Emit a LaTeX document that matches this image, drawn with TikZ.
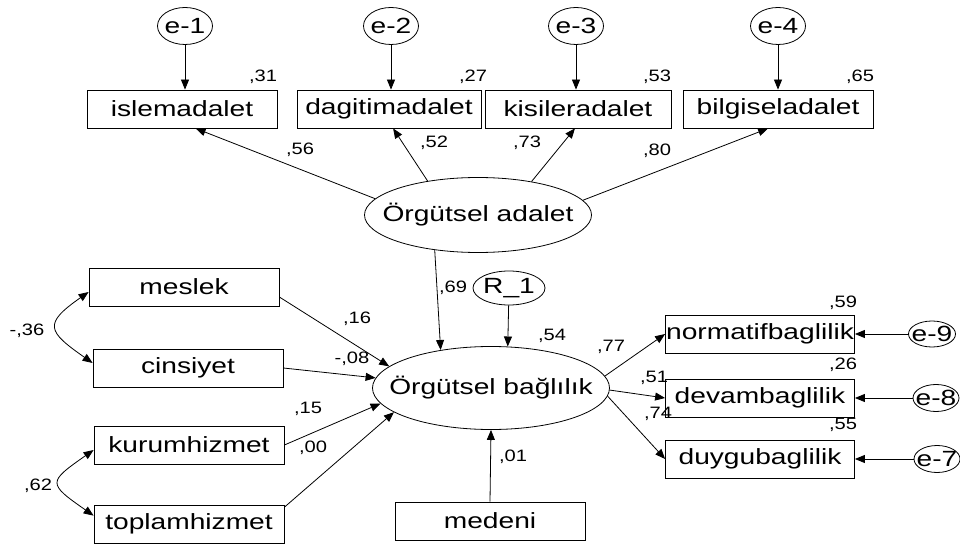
\documentclass[tikz,border=0pt]{standalone}
\usepackage{fontspec}
\setmainfont{Liberation Sans}
\newfontfamily\amosfont[FakeStretch=1.28]{Liberation Sans}
\newfontfamily\amosnum[FakeStretch=1.22]{Liberation Sans}
\usetikzlibrary{arrows.meta, shapes.geometric}

\begin{document}
\begin{tikzpicture}[
    x=1pt, y=1pt,
    obs/.style={draw, rectangle, inner sep=0.5pt, minimum height=38pt, minimum width=#1, font=\fontsize{22}{25}\amosfont},
    obs/.default=190pt,
    lat/.style={draw, ellipse, inner sep=0pt},
    lab/.style={font=\fontsize{22}{25}\amosfont},
    est/.style={font=\fontsize{16.5}{18}\amosnum, inner sep=0pt},
    arr/.style={-{Triangle[length=10pt, width=8pt]}, line width=0.8pt},
    dbl/.style={{Triangle[length=10pt, width=8pt]}-{Triangle[length=10pt, width=8pt]}, line width=0.8pt},
    line width=0.8pt
]
\useasboundingbox (0,0) rectangle (960,544);

% Errors of the top indicators
\node[lat, minimum width=55pt, minimum height=37pt, label={[lab]center:e-1}] (e1) at (185,518) {};
\node[lat, minimum width=55pt, minimum height=37pt, label={[lab]center:e-2}] (e2) at (391,518) {};
\node[lat, minimum width=55pt, minimum height=37pt, label={[lab]center:e-3}] (e3) at (576,518) {};
\node[lat, minimum width=55pt, minimum height=37pt, label={[lab]center:e-4}] (e4) at (778,518) {};

% Indicators of Orgutsel adalet
\node[obs=190pt] (isle) at (182,435) {islemadalet};
\node[obs=184pt] (dagi) at (389,435) {dagitimadalet};
\node[obs=186pt] (kisi) at (578,435) {kisileradalet};
\node[obs=190pt] (bilgi) at (778,435) {bilgiseladalet};

\draw[arr] (e1) -- (e1 |- isle.north);
\draw[arr] (e2) -- (e2 |- dagi.north);
\draw[arr] (e3) -- (e3 |- kisi.north);
\draw[arr] (e4) -- (e4 |- bilgi.north);

% Latent variables
\node[lat, minimum width=227pt, minimum height=75pt, label={[lab]center:Örgütsel adalet}] (adalet) at (478,329) {};
\node[lat, minimum width=237pt, minimum height=83pt, label={[lab]center:Örgütsel bağlılık}] (bag) at (491,156) {};
\node[lat, minimum width=72pt, minimum height=34pt, label={[lab]center:R\_1}] (r1) at (509,256) {};

\draw[arr] (adalet.171.6) -- (isle.-55.6);
\draw[arr] (adalet.146.6) -- (dagi.-78);
\draw[arr] (adalet.32.4) -- (kisi.-99);
\draw[arr] (adalet.8.4) -- (bilgi.-117.8);
\draw[arr] (adalet.219) -- (bag.143.3);
\draw[arr] (r1) -- (bag.68.7);

% Covariates
\node[obs=190pt] (mes) at (184,257) {meslek};
\node[obs=190pt] (cin) at (188,176) {cinsiyet};
\node[obs=190pt] (kurum) at (189,99) {kurumhizmet};
\node[obs=190pt] (toplam) at (189,20) {toplamhizmet};
\node[obs=190pt] (med) at (490,23) {medeni};

\draw[arr] (mes.-6) -- (bag.168.6);
\draw[arr] (cin.east) -- (bag.175.2);
\draw[arr] (kurum.east) -- (bag.188.5);
\draw[arr] (toplam.10) -- (bag.194.7);
\draw[arr] (med.north) -- (bag.south);

\draw[dbl] (mes.183) to[out=215, in=145, looseness=2] (cin.177);
\draw[dbl] (kurum.183) to[out=215, in=145, looseness=2.2] (toplam.175.8);

% Indicators of Orgutsel baglilik
\node[obs=189pt] (norm) at (760,210) {normatifbaglilik};
\node[obs=189pt] (devam) at (760,146) {devambaglilik};
\node[obs=189pt] (duygu) at (760,85) {duygubaglilik};

\node[lat, minimum width=47pt, minimum height=26pt, label={[lab]center:e-9}] (e9) at (932,210) {};
\node[lat, minimum width=46pt, minimum height=27pt, label={[lab]center:e-8}] (e8) at (936,146) {};
\node[lat, minimum width=46pt, minimum height=27pt, label={[lab]center:e-7}] (e7) at (937,85) {};

\draw[arr] (bag.6) -- (norm.west);
\draw[arr] (bag.-1) -- (devam.west);
\draw[arr] (bag.-4.4) -- (duygu.west);
\draw[arr] (e9) -- (norm.east);
\draw[arr] (e8) -- (devam.east);
\draw[arr] (e7) -- (duygu.east);

% Estimates
\node[est] (v31) at (263,467) {,31};
\node[est] (v27) at (473,467) {,27};
\node[est] (v53) at (657,467) {,53};
\node[est] (v65) at (860,467) {,65};
\node[est] (v56) at (300,394) {,56};
\node[est] (v52) at (434,401) {,52};
\node[est] (v73) at (527,401) {,73};
\node[est] (v80) at (657,393) {,80};
\node[est] (v69) at (453,256) {,69};
\node[est] (v54) at (552,208) {,54};
\node[est] (v77) at (611,197) {,77};
\node[est] (v51) at (654,166) {,51};
\node[est] (v74) at (658,130) {,74};
\node[est] (v59) at (843,241) {,59};
\node[est] (v26) at (843,179) {,26};
\node[est] (v55) at (843,119) {,55};
\node[est] (v16) at (357,225) {,16};
\node[est] (v08) at (352,185) {-,08};
\node[est] (v15) at (308,135) {,15};
\node[est] (v00) at (313,96) {,00};
\node[est] (v36) at (27,213) {-,36};
\node[est] (v62) at (38,58) {,62};
\node[est] (v01) at (513,87) {,01};

\end{tikzpicture}
\end{document}
